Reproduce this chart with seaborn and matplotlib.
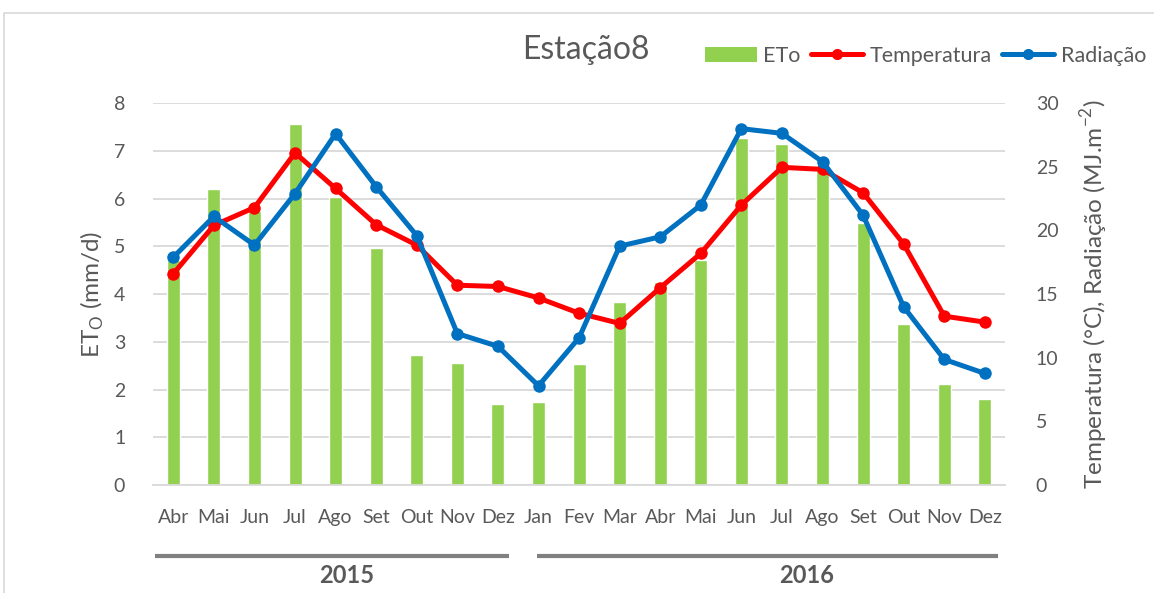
import numpy as np
import pandas as pd
import matplotlib
matplotlib.use("Agg")
import matplotlib.pyplot as plt
import seaborn as sns
from matplotlib.patches import Patch, Rectangle
from matplotlib.lines import Line2D

months = ["Abr", "Mai", "Jun", "Jul", "Ago", "Set", "Out", "Nov", "Dez",
          "Jan", "Fev", "Mar", "Abr", "Mai", "Jun", "Jul", "Ago", "Set", "Out", "Nov", "Dez"]
eto = [4.72, 6.2, 5.75, 7.57, 6.04, 4.97, 2.73, 2.56, 1.69,
       1.73, 2.54, 3.84, 4.26, 4.72, 7.27, 7.15, 6.6, 5.49, 3.37, 2.12, 1.80]
temperatura = [16.6, 20.4, 21.8, 26.1, 23.3, 20.45, 18.85, 15.7, 15.6,
               14.7, 13.5, 12.7, 15.5, 18.2, 22.0, 24.96, 24.8, 22.96, 18.93, 13.27, 12.8]
radiacao = [17.9, 21.1, 18.85, 22.9, 27.6, 23.44, 19.6, 11.9, 10.9,
            7.8, 11.57, 18.77, 19.5, 22.0, 28.0, 27.63, 25.4, 21.2, 14.0, 9.87, 8.77]
years = ["2015", "2016"]

sns.set_theme(style="white")
plt.rcParams['font.family'] = ['Lato', 'DejaVu Sans']

GRAY = "#595959"
GREEN = "#92D050"
RED = "#FF0000"
BLUE = "#0070C0"

df = pd.DataFrame({"pos": np.arange(len(months)), "mes": months, "ETo": eto,
                   "Temperatura": temperatura, "Radiacao": radiacao})

fig = plt.figure(figsize=(11.54, 5.93), dpi=100)
ax = fig.add_axes([0.1326, 0.182, 0.871 - 0.1326, 0.826 - 0.182])

sns.barplot(data=df, x="pos", y="ETo", color=GREEN, width=0.32, saturation=1,
            ax=ax, zorder=2)
ax.set_ylim(0, 8)
ax.set_xlim(-0.5, len(months) - 0.5)
ax.set_yticks(range(0, 9))
ax.yaxis.grid(True, color="#D9D9D9", linewidth=1.3, zorder=0)
ax.set_axisbelow(True)
for s in ["top", "right", "left"]:
    ax.spines[s].set_visible(False)
ax.spines["bottom"].set_color("#D9D9D9")
ax.spines["bottom"].set_linewidth(1.3)
ax.set_xticks(range(len(months)))
ax.set_xticklabels(months, fontsize=14, color=GRAY)
ax.tick_params(axis="x", length=0, pad=17)
ax.tick_params(axis="y", length=0, pad=20, labelsize=14, labelcolor=GRAY)
ax.set_xlabel("")
ax.set_ylabel("ET$_\\mathregular{O}$ (mm/d)", fontsize=17.5, color=GRAY, labelpad=6)

ax2 = ax.twinx()
sns.lineplot(data=df, x="pos", y="Temperatura", color=RED, linewidth=3.6,
             marker="o", markersize=9, markeredgewidth=0, ax=ax2, zorder=3)
sns.lineplot(data=df, x="pos", y="Radiacao", color=BLUE, linewidth=3.6,
             marker="o", markersize=9, markeredgewidth=0, ax=ax2, zorder=4)
ax2.set_ylim(0, 30)
ax2.set_yticks(range(0, 31, 5))
ax2.set_xlim(-0.5, len(months) - 0.5)
for s in ["top", "right", "left", "bottom"]:
    ax2.spines[s].set_visible(False)
ax2.tick_params(axis="y", length=0, pad=22, labelsize=14, labelcolor=GRAY)
ax2.set_ylabel("Temperatura (°C), Radiação (MJ.m$^{\\mathregular{-2}}$)",
               fontsize=17.5, color=GRAY, labelpad=14)
ax2.set_xlabel("")

# year group lines and labels
trans = ax.get_xaxis_transform()
year_spans = [(-0.45, 8.28), (8.97, 20.33)]
year_label_x = [4.27, 15.6]
for (x0, x1), xl, yr in zip(year_spans, year_label_x, years):
    ax.plot([x0, x1], [-0.186, -0.186], transform=trans, color="#808080",
            linewidth=3, clip_on=False, solid_capstyle="butt")
    ax.text(xl, -0.236, yr, transform=trans, ha="center", va="center",
            fontsize=17, fontweight="bold", color=GRAY)

# title and legend
fig.text(0.508, 0.916, "Estação8", ha="center", va="center", fontsize=23, color=GRAY)
handles = [Patch(facecolor=GREEN, edgecolor="none"),
           Line2D([0], [0], color=RED, linewidth=3.6, marker="o", markersize=8, markeredgewidth=0),
           Line2D([0], [0], color=BLUE, linewidth=3.6, marker="o", markersize=8, markeredgewidth=0)]
fig.legend(handles, ["ETo", "Temperatura", "Radiação"], loc="center",
           bbox_to_anchor=(0.802, 0.906), ncol=3, frameon=False, fontsize=15.5,
           handlelength=2.4, handletextpad=0.3, columnspacing=0.5, labelcolor=GRAY)

# outer chart frame
fig.patches.append(Rectangle((4 / 1154, -0.1), 1.2, 1 - 13 / 593 + 0.1,
                             transform=fig.transFigure, fill=False,
                             edgecolor="#D9D9D9", linewidth=1.2))

fig.savefig("out.png", dpi=100)
